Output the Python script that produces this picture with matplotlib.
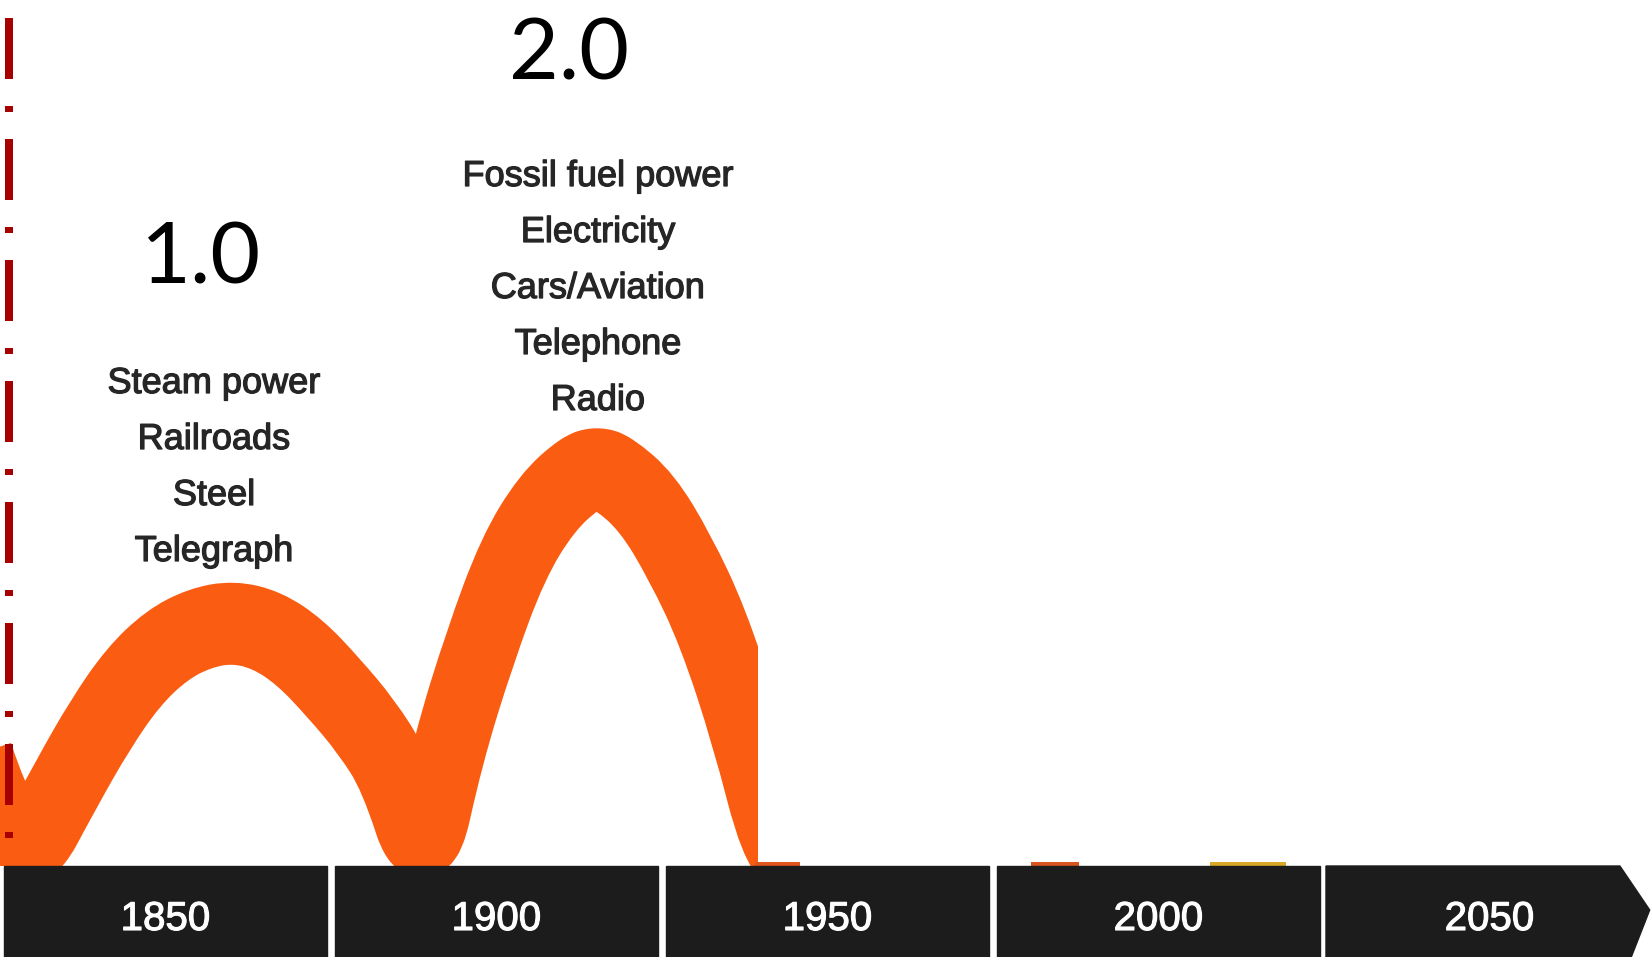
import numpy as np
import matplotlib
matplotlib.use("Agg")
from matplotlib import pyplot as plt
from matplotlib import patches, transforms
from matplotlib.path import Path
import matplotlib.patheffects as pe

plt.rcParams['lines.scale_dashes'] = False

# timeline blocks (years)
block_years = [1850, 1900, 1950, 2000, 2050]
block_labels = ['1850', '1900', '1950', '2000', '2050']

# wave centre line (year, height above the timeline)
wave_years = [1819.5, 1823.8, 1828.8, 1835.1, 1840.1, 1845.1, 1850.2, 1855.2,
              1860.2, 1865.3, 1870.3, 1875.3, 1880.4, 1884.6, 1889.0, 1892.7,
              1897.5, 1902.5, 1907.6, 1912.6, 1915.2, 1917.6, 1922.7, 1927.7,
              1932.7, 1937.8, 1942.1, 1945.9]
wave_level = [150, 62, 5, 83, 141, 189, 221, 238,
              244, 236, 214, 179, 139, 95, 5, 116,
              219, 308, 363, 393, 398, 393, 364, 309,
              239, 136, 25, 5]
wave_cut = 1939.5

# bits of the later waves peeking over the timeline
stub_start = [1939.0, 1980.7, 2007.8]
stub_end = [1945.9, 1988.0, 2019.3]
stub_colors = ['#e0561c', '#d9541e', '#d8a826']

# revolution labels
rev_names = ['1.0', '2.0']
rev_x = [1855.3, 1910.9]
rev_y = [582, 786]
rev_items = [['Steam power', 'Railroads', 'Steel', 'Telegraph'],
             ['Fossil fuel power', 'Electricity', 'Cars/Aviation', 'Telephone', 'Radio']]
items_x = [1857.3, 1915.3]
items_top = [473, 680]
item_step = 56

ORANGE = '#fa5c12'
px = 72 / 100.0  # points per pixel

fig = plt.figure(figsize=(16.52, 9.57), dpi=100)
ax = fig.add_axes([0, 0, 1, 1])
ax.set_xlim(1825, 1825 + 1652 / 6.62)
ax.set_ylim(-91, 866)
ax.axis('off')

# smooth path through the read points (quadratic curves between midpoints)
pts = np.column_stack([wave_years, wave_level]).astype(float)
verts = [pts[0], (pts[0] + pts[1]) / 2]
codes = [Path.MOVETO, Path.LINETO]
for i in range(1, len(pts) - 1):
    verts += [pts[i], (pts[i] + pts[i + 1]) / 2]
    codes += [Path.CURVE3, Path.CURVE3]
verts.append(pts[-1])
codes.append(Path.LINETO)
wave_path = Path(verts, codes)

# two slightly shifted thick strokes give a fatter crest
clip = patches.Rectangle((1800, 0), wave_cut - 1800, 1000, transform=ax.transData)
for dy in (-6, 6):
    tr = transforms.offset_copy(ax.transData, fig=fig, x=0, y=dy, units='dots')
    pp = patches.PathPatch(wave_path, fill=False, edgecolor=ORANGE, lw=70 * px,
                           joinstyle='round', capstyle='butt', transform=tr, zorder=2)
    ax.add_patch(pp)
    pp.set_clip_path(clip)

ax.bar(stub_start, 4, width=np.array(stub_end) - np.array(stub_start), bottom=0,
       align='edge', color=stub_colors, zorder=2)

# timeline band
half = 24.4
for i, yr in enumerate(block_years):
    left = yr - half
    if i < len(block_years) - 1:
        ax.add_patch(patches.Rectangle((left, -120), 2 * half, 120, color='#1c1c1c', zorder=3))
    else:
        xs = [left - 0.3, 2069.7, 2074.2, 2069.7, left - 0.3]
        ys = [0, 0, -44, -120, -120]
        ax.add_patch(patches.Polygon(np.column_stack([xs, ys]), closed=True,
                                     color='#1c1c1c', zorder=3))
    ax.text(yr, -64, block_labels[i], color='white', fontsize=29, ha='center',
            va='baseline', family='Liberation Sans', zorder=4,
            path_effects=[pe.withStroke(linewidth=0.8, foreground='white')])

# red dash-dot marker at the left
ax.plot([1826.36, 1826.36], [848, 2], color='#a60000', lw=8 * px,
        linestyle=(0, (61 * px, 27 * px, 6 * px, 27 * px)), dash_capstyle='butt', zorder=5)

for k in range(2):
    ax.text(rev_x[k], rev_y[k], rev_names[k], fontsize=62, family='Lato',
            ha='center', va='baseline', color='black')
    for j, name in enumerate(rev_items[k]):
        ax.text(items_x[k], items_top[k] - j * item_step, name, fontsize=26,
                family='Liberation Sans', ha='center', va='baseline', color='#262626',
                path_effects=[pe.withStroke(linewidth=0.9, foreground='#262626')])

fig.savefig('out.png', dpi=100)
